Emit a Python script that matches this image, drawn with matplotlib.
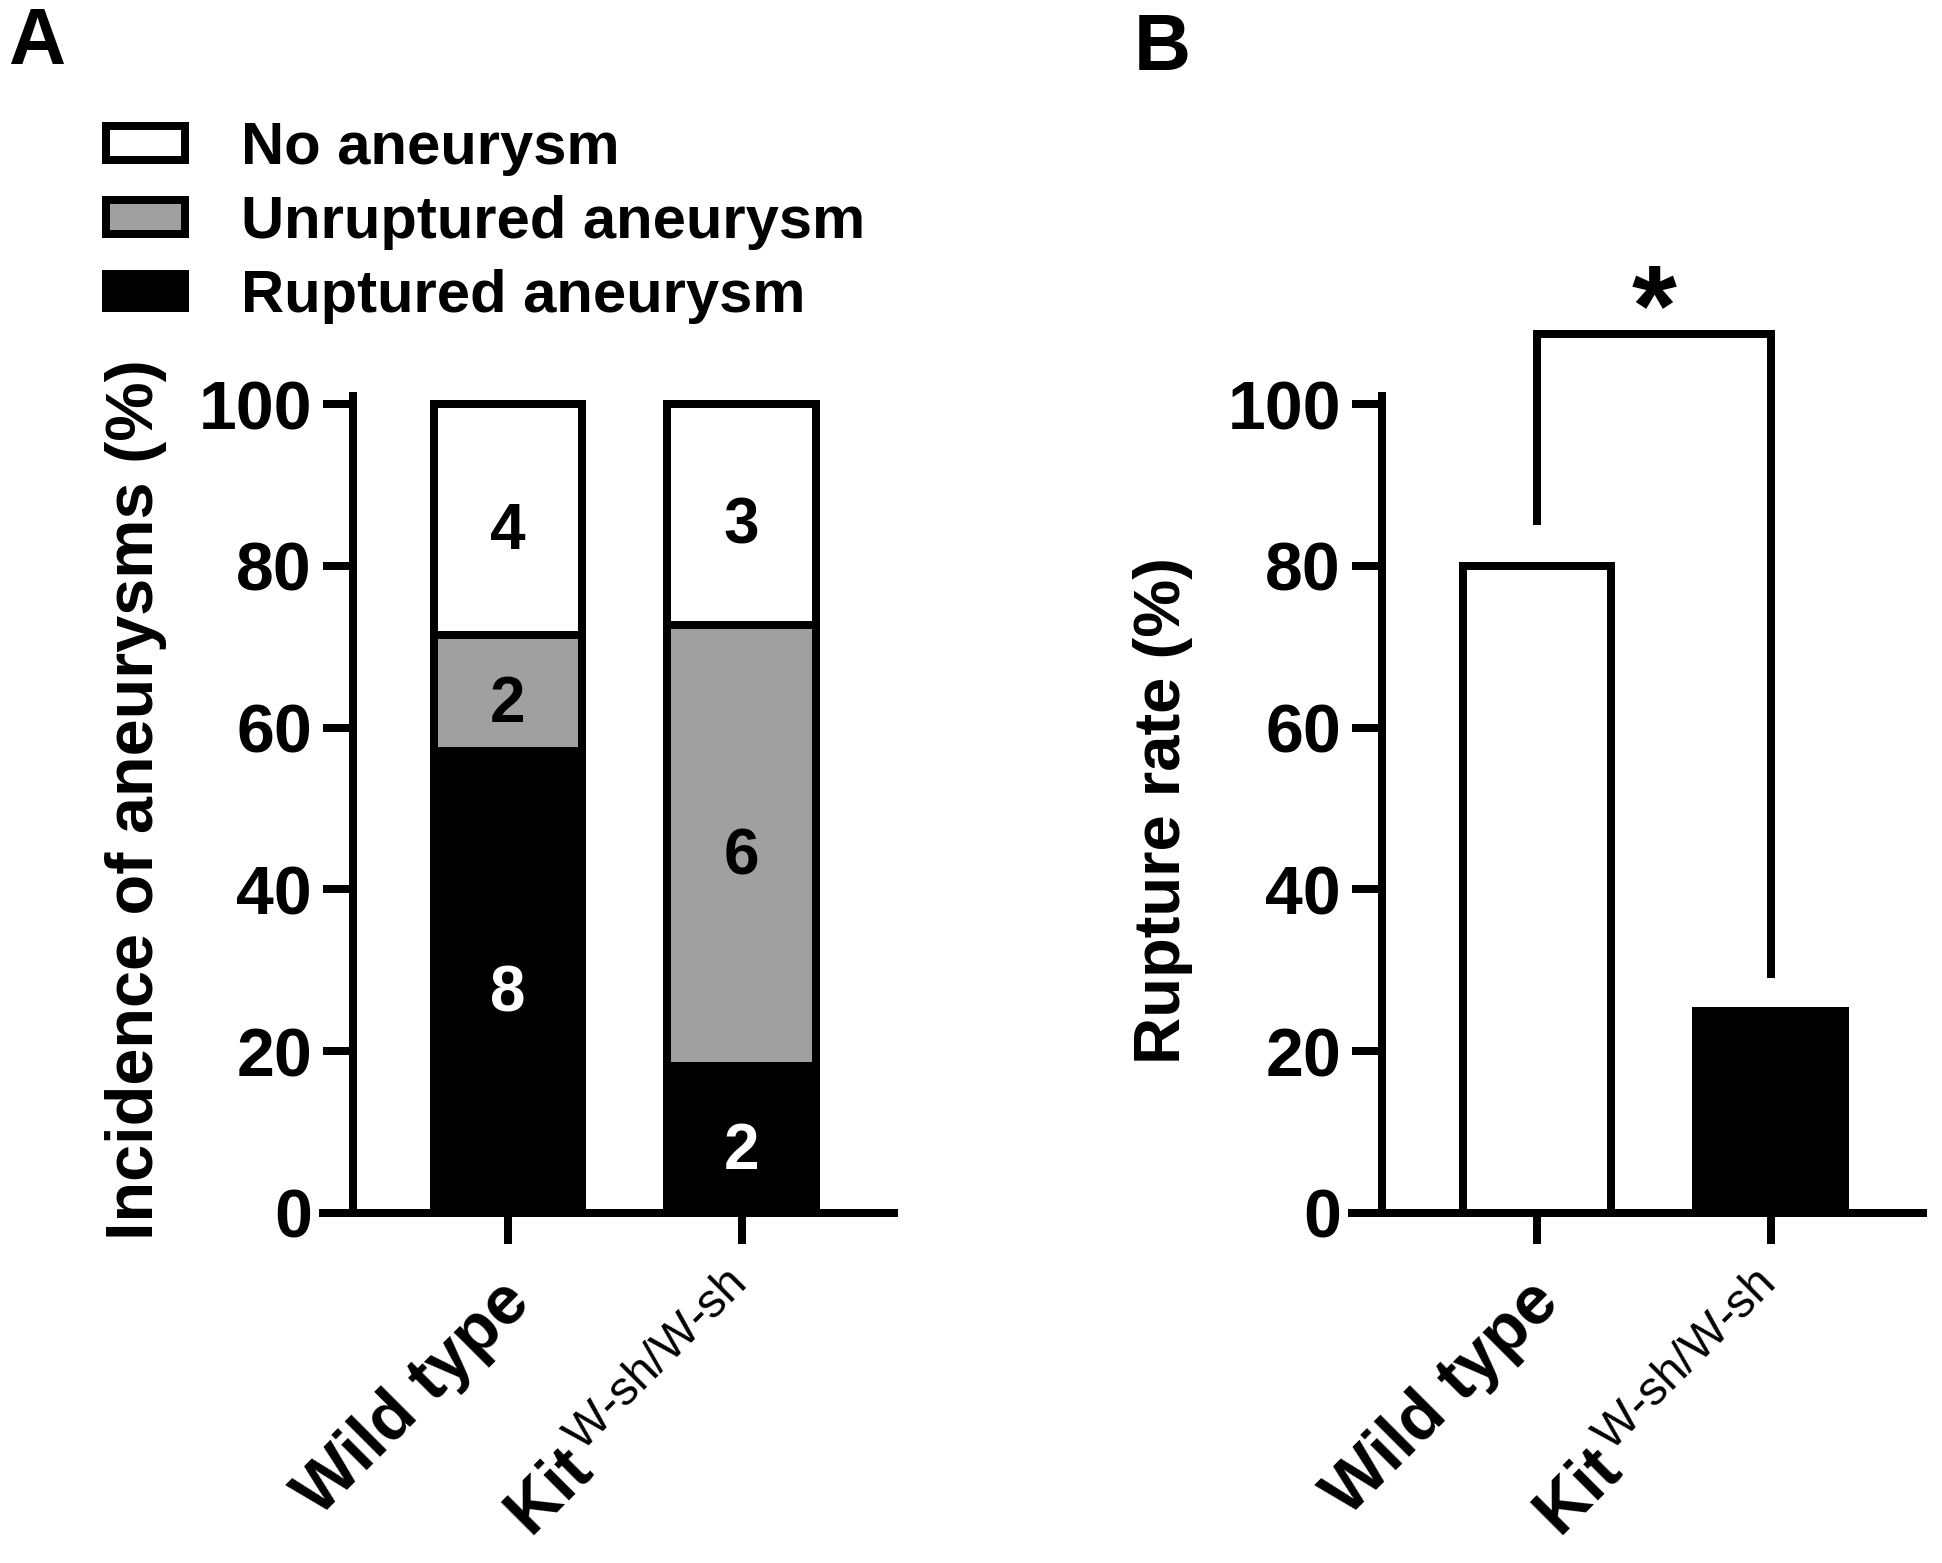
import matplotlib
matplotlib.use("Agg")
import matplotlib.pyplot as plt
from matplotlib.patches import Patch
from matplotlib.transforms import ScaledTranslation
import numpy as np

plt.rcParams['font.family'] = ['Liberation Sans', 'DejaVu Sans']
plt.rcParams['mathtext.fontset'] = 'custom'
plt.rcParams['mathtext.rm'] = 'Liberation Sans:weight=normal'
plt.rcParams['mathtext.it'] = 'Liberation Sans:italic'
plt.rcParams['mathtext.bf'] = 'Liberation Sans:bold'

# ---------------- data ----------------
groups = ["Wild type", "Kit$^{\\,\\text{W-sh/W-sh}}$"]
categories = ["No aneurysm", "Unruptured aneurysm", "Ruptured aneurysm"]
ruptured_n = [8, 2]
unruptured_n = [2, 6]
none_n = [4, 3]
rupture_rate = [80, 25]
yticks = [0, 20, 40, 60, 80, 100]

# ---------------- style ----------------
LW = 5.76
GRAY = "#A0A0A0"
TICK_FS = 49
LAB_FS = 48
W = 0.634
XLIM = (-0.809, 1.67)
YLIM = (0, 101.5)
SPINE_X = -0.664

fig = plt.figure(figsize=(19.42, 15.63), dpi=100)
H = 1563.0
Wf = 1942.0
axw = 579 / Wf
axb = (H - 1213) / H
axh = (1213 - 392) / H
axA = fig.add_axes([319 / Wf, axb, axw, axh])
axB = fig.add_axes([1348 / Wf, axb, axw, axh])


def style_axis(ax):
    ax.set_xlim(*XLIM)
    ax.set_ylim(*YLIM)
    for s in ["top", "right"]:
        ax.spines[s].set_visible(False)
    ax.spines["left"].set_position(("data", SPINE_X))
    ax.spines["bottom"].set_position(("data", 0))
    for s in ["left", "bottom"]:
        ax.spines[s].set_linewidth(LW)
        ax.spines[s].set_capstyle("butt")
    ax.set_yticks(yticks)
    ax.set_yticklabels([str(v) for v in yticks], fontsize=TICK_FS, fontweight="bold")
    ax.tick_params(axis="y", direction="out", length=21.6, width=LW, pad=7.9)
    ax.tick_params(axis="x", direction="out", length=22.3, width=LW, pad=17)
    ax.set_xticks(range(len(groups)))
    ax.set_xticklabels(groups, rotation=45, ha="right", va="center",
                       rotation_mode="anchor", fontsize=TICK_FS, fontweight="bold")
    off = ScaledTranslation(0.12, -0.24, fig.dpi_scale_trans)
    for lab in ax.get_xticklabels():
        lab.set_transform(lab.get_transform() + off)


x = np.arange(len(groups))
totals = np.array(ruptured_n) + np.array(unruptured_n) + np.array(none_n)
p_r = np.array(ruptured_n) / totals * 100
p_u = np.array(unruptured_n) / totals * 100
p_n = np.array(none_n) / totals * 100

# ---------------- panel A ----------------
axA.bar(x, p_r, W, color="black", edgecolor="black", linewidth=LW, zorder=2)
axA.bar(x, p_u, W, bottom=p_r, color=GRAY, edgecolor="black", linewidth=LW, zorder=2)
axA.bar(x, p_n, W, bottom=p_r + p_u, color="white", edgecolor="black", linewidth=LW, zorder=2)
style_axis(axA)

for i in range(len(groups)):
    segs = [(0, p_r[i], ruptured_n[i], "white"),
            (p_r[i], p_u[i], unruptured_n[i], "black"),
            (p_r[i] + p_u[i], p_n[i], none_n[i], "black")]
    for b, h, n, c in segs:
        axA.text(x[i], b + h / 2 - 1.5, str(n), ha="center", va="center",
                 fontsize=46, fontweight="bold", color=c, zorder=3)

fig.text(136 / Wf, 1 - 800 / H, "Incidence of aneurysms (%)", rotation=90,
         ha="center", va="center", fontsize=LAB_FS, fontweight="bold")

handles = [Patch(facecolor="white", edgecolor="black", linewidth=LW),
           Patch(facecolor=GRAY, edgecolor="black", linewidth=LW),
           Patch(facecolor="black", edgecolor="black", linewidth=LW)]
fig.legend(handles, categories, loc="upper left",
           bbox_to_anchor=(105.7 / Wf, 1 - 121 / H), frameon=False,
           borderpad=0, borderaxespad=0, handlelength=1.32,
           handleheight=0.486, handletextpad=0.95, labelspacing=0.32,
           prop={"weight": "bold", "size": 43})

# ---------------- panel B ----------------
axB.bar(x, rupture_rate, W, color=["white", "black"], edgecolor="black",
        linewidth=LW, zorder=2)
style_axis(axB)
axB.plot([0, 0, 1, 1], [85, 108.7, 108.7, 29], color="black", lw=LW,
         clip_on=False, solid_joinstyle="miter", solid_capstyle="butt")
axB.text(0.5, 107.4, "*", ha="center", va="baseline", fontsize=83,
         fontweight="bold", clip_on=False)
fig.text(1163 / Wf, 1 - 810 / H, "Rupture rate (%)", rotation=90,
         ha="center", va="center", fontsize=47, fontweight="bold")

fig.text(8 / Wf, 1 - 64 / H, "A", fontsize=57, fontweight="bold", va="baseline")
fig.text(1134 / Wf, 1 - 70 / H, "B", fontsize=57, fontweight="bold", va="baseline")

fig.savefig("out.png", dpi=100)
